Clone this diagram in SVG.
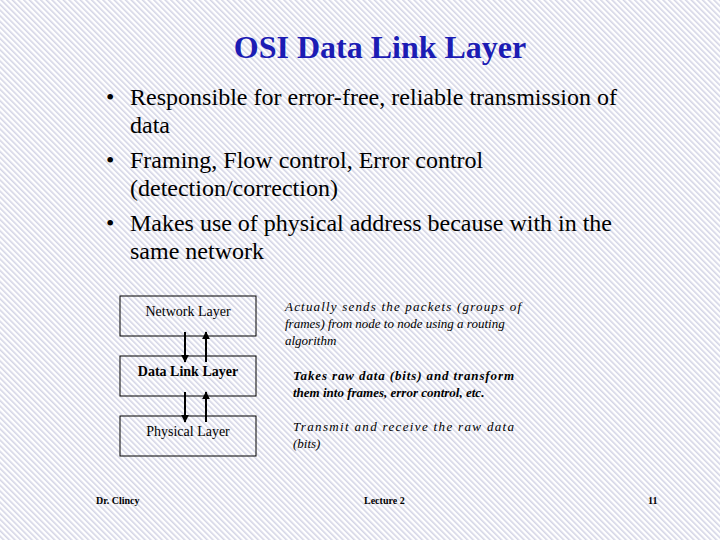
<svg xmlns="http://www.w3.org/2000/svg" width="720" height="540" viewBox="0 0 720 540">
<defs>
<pattern id="hatch" width="4" height="4" patternUnits="userSpaceOnUse" patternTransform="rotate(-45)">
<rect width="4" height="4" fill="#ffffff"/>
<rect width="1.6" height="4" fill="#d4d5e6"/>
</pattern>
<marker id="ah" viewBox="0 0 10 10" refX="9" refY="5" markerWidth="4" markerHeight="4" orient="auto"><path d="M0,0 L10,5 L0,10 z" fill="#000"/></marker>
<style>
text{font-family:"Liberation Serif","Times New Roman",serif;fill:#000}
.box{fill:none;stroke:#000;stroke-width:1}
.ar{stroke:#000;stroke-width:2;marker-end:url(#ah)}
</style>
</defs>
<rect width="720" height="540" fill="url(#hatch)"/>
<text x="380" y="58" text-anchor="middle" font-family="Liberation Serif, serif" font-size="32" font-weight="bold" style="fill:#1c1cb4">OSI Data Link Layer</text>
<g font-size="24" font-family="Liberation Serif, serif">
<text x="106" y="105">•</text><text x="130" y="105" textLength="487" lengthAdjust="spacing">Responsible for error-free, reliable transmission of</text>
<text x="130" y="133">data</text>
<text x="106" y="168">•</text><text x="130" y="168">Framing, Flow control, Error control</text>
<text x="130" y="196">(detection/correction)</text>
<text x="106" y="231">•</text><text x="130" y="231" textLength="482" lengthAdjust="spacing">Makes use of physical address because with in the</text>
<text x="130" y="259">same network</text>
</g>
<g id="network"><rect class="box" x="120" y="296" width="136" height="40"/><text x="188" y="316" text-anchor="middle" font-family="Liberation Serif, serif" font-size="14">Network Layer</text></g>
<g id="datalink"><rect class="box" x="120" y="356" width="136" height="40"/><text x="188" y="376" text-anchor="middle" font-family="Liberation Serif, serif" font-size="14" font-weight="bold">Data Link Layer</text></g>
<g id="physical"><rect class="box" x="120" y="416" width="136" height="40"/><text x="188" y="436" text-anchor="middle" font-family="Liberation Serif, serif" font-size="14">Physical Layer</text></g>
<g id="connectors">
<line class="ar" x1="185" y1="332" x2="185" y2="362"/>
<line class="ar" x1="206" y1="362" x2="206" y2="332"/>
<line class="ar" x1="185" y1="392" x2="185" y2="422"/>
<line class="ar" x1="206" y1="422" x2="206" y2="392"/>
</g>
<g font-size="13" font-style="italic" font-family="Liberation Serif, serif">
<text x="285" y="311" textLength="236" lengthAdjust="spacing">Actually sends the packets (groups of</text>
<text x="285" y="328">frames) from node to node using a routing</text>
<text x="285" y="345">algorithm</text>
<text x="293" y="380" font-weight="bold" textLength="221" lengthAdjust="spacing">Takes raw data (bits) and transform</text>
<text x="293" y="397" font-weight="bold">them into frames, error control, etc.</text>
<text x="293" y="431" textLength="221" lengthAdjust="spacing">Transmit and receive the raw data</text>
<text x="293" y="448">(bits)</text>
</g>
<g font-size="10" font-weight="bold" font-family="Liberation Serif, serif">
<text x="96" y="504">Dr. Clincy</text>
<text x="364" y="504">Lecture 2</text>
<text x="648" y="504">11</text>
</g>
</svg>
